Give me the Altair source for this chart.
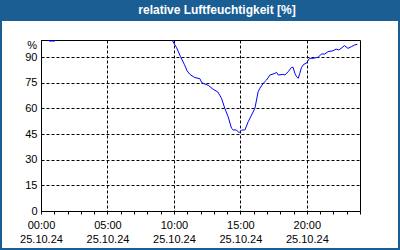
import altair as alt
import pandas as pd

# time of day in hours (25.10.24) and relative humidity in %
hours = [0, 0.55, 0.6, 1.05, 1.1, 9.8, 9.9, 10.2, 10.5, 10.78, 11.0, 11.2, 11.58, 11.95, 12.1,
         12.58, 12.95, 13.3, 13.45, 13.58, 13.83, 14.08, 14.33, 14.46, 14.7, 14.9, 15.1, 15.34,
         15.59, 15.84, 16.09, 16.34, 16.47, 16.72, 16.97, 17.22, 17.6, 17.72, 17.85, 18.2, 18.35,
         18.6, 18.85, 18.97, 19.1, 19.23, 19.35, 19.47, 19.6, 19.77, 19.97, 20.2, 20.47, 20.85,
         21.1, 21.35, 21.6, 21.97, 22.2, 22.4, 22.58, 22.83, 23.1, 23.35, 23.6, 23.8]
humidity = [101, 101, 99.4, 99.4, 101, 101, 99.4, 95.5, 90.2, 85.8, 81.9, 79.9, 78, 77.4, 75,
            73.5, 71.2, 69.6, 67.7, 65.9, 60, 55.1, 48.4, 47.4, 47.4, 45.8, 47.4, 47.4,
            52.2, 56.1, 60, 69.8, 71.8, 74.7, 76.6, 79.5, 80.5, 81.1, 79.5, 79.9, 79.5,
            81.5, 84, 84, 80.5, 78.5, 77.6, 80.5, 84, 85.8, 86.4, 89.3, 89.3, 89.9,
            91.8, 91.8, 93.2, 93.7, 94.7, 94.2, 95.1, 96.7, 95.1, 96.1, 97.1, 97.5]
x_ticks = list(range(0, 25))
y_ticks = [0, 15, 30, 45, 60, 75, 90]
title_text = "relative Luftfeuchtigkeit [%]"
date_label = "25.10.24"

df = pd.DataFrame({"h": hours, "rh": humidity})
one = alt.Data(values=[{}])
BLUE = "#1B5E94"
FONT = "Liberation Sans"

xscale = alt.Scale(domain=[0, 24], nice=False)
yscale = alt.Scale(domain=[0, 100], nice=False)

line = alt.Chart(df).mark_line(color="#0000FF", strokeWidth=1, clip=True).encode(
    x=alt.X("h:Q", scale=xscale, title=None,
            axis=alt.Axis(values=x_ticks, tickSize=3, tickColor="black", domainColor="black",
                          grid=True, gridColor="black", gridDash=[3, 2],
                          gridOpacity=alt.condition("datum.value % 5 === 0", alt.value(1), alt.value(0)),
                          labelExpr="datum.value % 5 === 0 ? [format(datum.value, '02d') + ':00', '" + date_label + "'] : ''",
                          labelOverlap=False, labelFlush=False, labelPadding=5,
                          labelLineHeight=14, labelBaseline="top",
                          labelFont=FONT, labelFontSize=11, labelColor="black")),
    y=alt.Y("rh:Q", scale=yscale, title=None,
            axis=alt.Axis(values=y_ticks, ticks=False, labelPadding=4, domainColor="black",
                          grid=True, gridColor="black", gridDash=[3, 2],
                          labelFont=FONT, labelFontSize=11, labelColor="black")),
)

frame = alt.Chart(one).mark_rect(fill=None, stroke=BLUE, strokeWidth=2).encode(
    x=alt.value(-40), x2=alt.value(358), y=alt.value(-39), y2=alt.value(209))

bar = alt.Chart(one).mark_rect(fill=BLUE).encode(
    x=alt.value(-41), x2=alt.value(359), y=alt.value(-40), y2=alt.value(-19))

title = alt.Chart(one).mark_text(text=title_text, color="white", font=FONT, fontSize=12,
                                 fontWeight="bold", align="center", baseline="middle").encode(
    x=alt.value(176), y=alt.value(-30))

pct = alt.Chart(one).mark_text(text="%", color="black", font=FONT, fontSize=11,
                               align="right", baseline="middle").encode(
    x=alt.value(-4), y=alt.value(6))

chart = alt.layer(line, frame, bar, title, pct).properties(
    width=319, height=171,
    autosize=alt.AutoSizeParams(type="none"),
    padding={"left": 41, "top": 40, "right": 40, "bottom": 39},
    background="#FFFFFF",
).configure_view(stroke="black", strokeWidth=1)

chart.save("out.html", embed_options={"renderer": "svg", "actions": False})
